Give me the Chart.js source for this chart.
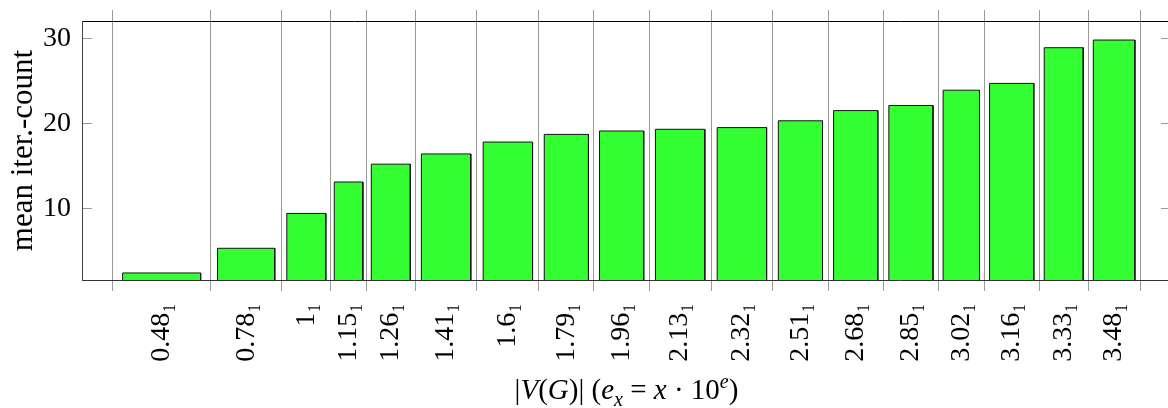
<!DOCTYPE html>
<html>
<head>
<meta charset="utf-8">
<script src="https://cdn.jsdelivr.net/npm/chart.js@4.4.0/dist/chart.umd.min.js"></script>
<style>
  html, body { margin: 0; padding: 0; overflow: hidden; background: #fff; }
  #wrap { position: relative; width: 1180px; height: 408px; }
  #xTitle {
    position: absolute; left: 0; width: 1253px; top: 375px;
    text-align: center; white-space: nowrap;
    font: 29px/1 "Liberation Serif", serif; color: #000;
  }
  #xTitle sub, #xTitle sup { font-size: 20px; line-height: 0; }
</style>
</head>
<body>
<div id="wrap">
  <canvas id="chart"></canvas>
  <div id="xTitle">|<i>V</i>(<i>G</i>)| (<i>e<sub>x</sub></i> = <i>x</i> · 10<sup><i>e</i></sup>)</div>
</div>
<script>
// interval edges on the x axis: bar i spans edges[i] .. edges[i + 1]
const edges = [0.48, 0.78, 1, 1.15, 1.26, 1.41, 1.6, 1.79, 1.96, 2.13, 2.32, 2.51, 2.68, 2.85, 3.02, 3.16, 3.33, 3.48, 3.64];
const edgeLabels = ['0.48₁', '0.78₁', '1₁', '1.15₁', '1.26₁', '1.41₁', '1.6₁', '1.79₁', '1.96₁', '2.13₁', '2.32₁', '2.51₁', '2.68₁', '2.85₁', '3.02₁', '3.16₁', '3.33₁', '3.48₁'];
const meanIter = [2.4, 5.3, 9.4, 13.1, 15.2, 16.4, 17.8, 18.7, 19.1, 19.3, 19.5, 20.3, 21.5, 22.1, 23.9, 24.7, 28.9, 29.8];
const yTicks = [10, 20, 30];

const FONT = '"Liberation Serif", serif';
const gridGray = '#9a9a9a';
const barWidth = 0.8; // fraction of the interval

// bar outlines as one closed path per interval (base at y = 0, below the visible range)
const barOutline = [];
meanIter.forEach((v, i) => {
  const w = edges[i + 1] - edges[i];
  const l = edges[i] + w * (1 - barWidth) / 2;
  const r = edges[i + 1] - w * (1 - barWidth) / 2;
  barOutline.push({ x: l, y: 0 }, { x: l, y: v }, { x: r, y: v }, { x: r, y: 0 });
});

const centers = meanIter.map((_, i) => (edges[i] + edges[i + 1]) / 2);

const isEdge = (tick) => tick && tick.edge === true;

const setEdgeTicks = (axis) => {
  axis.ticks = edges.map(v => ({ value: v, edge: true }));
};

const setAllXTicks = (axis) => {
  const t = edges.map(v => ({ value: v, edge: true }));
  centers.forEach((v, i) => t.push({ value: v, edge: false, idx: i }));
  t.sort((a, b) => a.value - b.value);
  axis.ticks = t;
};

const setYTicks = (axis) => {
  axis.ticks = yTicks.map(v => ({ value: v }));
};

// pin axis sizes and drop the label overhang padding
const pin = (w, h) => (s) => {
  if (w !== null) s.width = w;
  if (h !== null) s.height = h;
  s.paddingTop = s.paddingBottom = s.paddingLeft = s.paddingRight = 0;
};

new Chart(document.getElementById('chart'), {
  type: 'line',
  data: {
    datasets: [{
      data: barOutline,
      xAxisID: 'x',
      yAxisID: 'y',
      borderColor: '#151515',
      borderWidth: 1,
      borderJoinStyle: 'miter',
      backgroundColor: '#33ff33',
      fill: { value: 0 },
      tension: 0,
      pointRadius: 0,
      pointHoverRadius: 0,
    }],
  },
  options: {
    responsive: true,
    maintainAspectRatio: false,
    animation: false,
    events: [],
    layout: { padding: { top: 10, right: 9, bottom: 0, left: 0 } },
    plugins: {
      legend: { display: false },
      tooltip: { enabled: false },
    },
    scales: {
      x: {
        type: 'linear',
        position: 'bottom',
        min: 0.385,
        max: 3.735,
        afterBuildTicks: setAllXTicks,
        afterFit: pin(null, 128),
        grid: {
          color: (c) => isEdge(c.tick) ? gridGray : 'rgba(0,0,0,0)',
          tickColor: (c) => isEdge(c.tick) ? gridGray : 'rgba(0,0,0,0)',
          tickLength: 11,
        },
        border: { color: '#333', width: 1 },
        ticks: {
          autoSkip: false,
          minRotation: 90,
          maxRotation: 90,
          padding: 12,
          color: '#000',
          font: { family: FONT, size: 28 },
          callback: function (value, index, ticks) {
            const t = ticks[index];
            return t && t.edge === false ? edgeLabels[t.idx] : '';
          },
        },
      },
      xTop: {
        type: 'linear',
        position: 'top',
        min: 0.385,
        max: 3.735,
        afterBuildTicks: setEdgeTicks,
        afterFit: pin(null, 11),
        grid: {
          drawOnChartArea: false,
          color: gridGray,
          tickColor: gridGray,
          tickLength: 11,
        },
        border: { color: '#000', width: 1 },
        ticks: { display: false },
      },
      y: {
        type: 'linear',
        position: 'left',
        min: 1.57,
        max: 32.04,
        afterBuildTicks: setYTicks,
        afterFit: pin(82, null),
        grid: {
          drawOnChartArea: false,
          color: gridGray,
          tickColor: gridGray,
          tickLength: -10,
        },
        border: { color: '#444', width: 1 },
        ticks: {
          padding: 21,
          color: '#000',
          font: { family: FONT, size: 28 },
        },
        title: {
          display: true,
          text: 'mean iter.-count',
          color: '#000',
          font: { family: FONT, size: 31 },
          padding: { top: 5, bottom: 0 },
        },
      },
      y2: {
        type: 'linear',
        position: 'right',
        min: 1.57,
        max: 32.04,
        afterBuildTicks: setYTicks,
        afterFit: pin(0, null),
        grid: {
          drawOnChartArea: false,
          color: gridGray,
          tickColor: gridGray,
          tickLength: -10,
        },
        border: { color: '#444', width: 1 },
        ticks: { display: false },
      },
    },
  },
});
</script>
</body>
</html>
